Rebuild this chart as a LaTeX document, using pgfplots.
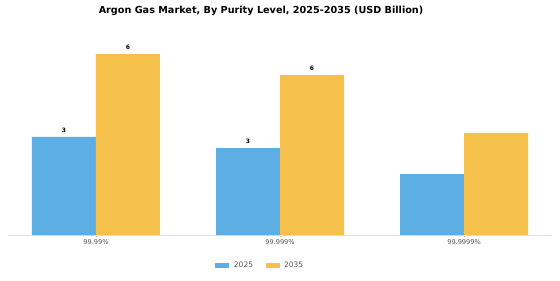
\documentclass[border=0pt]{standalone}
\usepackage{pgfplots}
\pgfplotsset{compat=1.18}
\usepackage{fontspec}
\setmainfont{DejaVu Sans}
\definecolor{cblue}{HTML}{5DAEE2}
\definecolor{cyel}{HTML}{F6C14B}
\definecolor{tgray}{HTML}{555555}
\begin{document}
\begin{tikzpicture}[x=1bp,y=1bp]
\useasboundingbox (0,0) rectangle (560,280);
\node[font=\bfseries\fontsize{9.7}{11}\selectfont, anchor=center] at (261,269) {Argon Gas Market, By Purity Level, 2025-2035 (USD Billion)};
\begin{axis}[
  at={(8bp,45bp)}, anchor=south west,
  scale only axis, width=544bp, height=193.8bp,
  ymin=0, ymax=6.8, xmin=-0.478, xmax=2.478,
  axis y line=none, axis x line*=bottom,
  x axis line style={draw=black!12, line width=0.8pt},
  xtick={0,1,2}, xticklabels={99.99\%,99.999\%,99.9999\%},
  x tick label style={font=\fontsize{6.6}{7}\selectfont, text=tgray, yshift=1bp},
  major tick length=2bp, xtick style={draw=black!30},
  ybar, bar width=64bp, bar shift auto,
  ybar=0pt,
  point meta=explicit symbolic,
  nodes near coords, every node near coord/.append style={font=\bfseries\fontsize{6}{7}\selectfont, text=black, yshift=1bp},
  legend style={at={(0.466,-0.155)}, anchor=center, draw=none, legend columns=2, font=\fontsize{7.5}{8}\selectfont, text=tgray, nodes={inner xsep=4.5bp}, /tikz/every even column/.append style={column sep=8bp}},
  legend image code/.code={\fill[#1] (0bp,-2.5bp) rectangle (14bp,2.5bp);},
]
\addplot[draw=none, fill=cblue] coordinates {(0,3.44) [3] (1,3.05) [3] (2,2.14) []};
\addplot[draw=none, fill=cyel] coordinates {(0,6.35) [6] (1,5.61) [6] (2,3.58) []};
\legend{2025,2035}
\end{axis}
\end{tikzpicture}
\end{document}
